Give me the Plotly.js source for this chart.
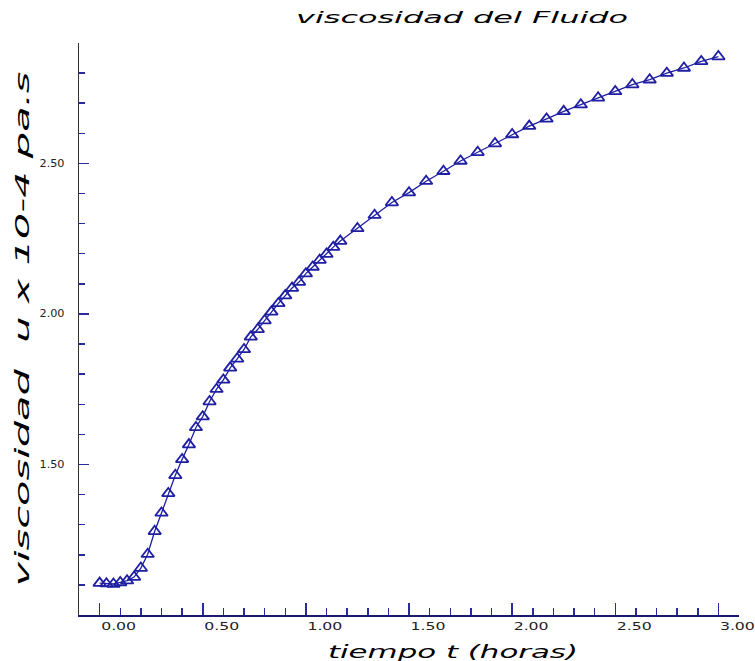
<!DOCTYPE html>
<html>
<head>
<meta charset="utf-8">
<script src="https://cdn.plot.ly/plotly-3.0.1.min.js"></script>
<style>body{margin:0;background:#fff;}</style>
</head>
<body>
<div id="chart" style="width:755px;height:661px;"></div>
<script>
// tiempo t (horas)
const tiempo = [0, 0.033, 0.067, 0.1, 0.133, 0.167, 0.2, 0.233, 0.267, 0.3,
  0.333, 0.367, 0.4, 0.433, 0.467, 0.5, 0.533, 0.567, 0.6, 0.633,
  0.667, 0.7, 0.733, 0.767, 0.8, 0.833, 0.867, 0.9, 0.933, 0.967,
  1.0, 1.033, 1.067, 1.1, 1.133, 1.167,
  1.25, 1.333, 1.417, 1.5, 1.583, 1.667, 1.75, 1.833, 1.917, 2.0,
  2.083, 2.167, 2.25, 2.333, 2.417, 2.5, 2.583, 2.667, 2.75, 2.833, 2.917, 3.0];
// viscosidad u x 10-4 pa.s
const viscosidad = [1.106, 1.104, 1.103, 1.108, 1.114, 1.126, 1.156, 1.202, 1.278, 1.339,
  1.404, 1.464, 1.517, 1.566, 1.623, 1.659, 1.709, 1.750, 1.781, 1.821,
  1.851, 1.882, 1.924, 1.949, 1.978, 2.007, 2.035, 2.061, 2.086, 2.106,
  2.134, 2.156, 2.179, 2.199, 2.222, 2.242,
  2.284, 2.328, 2.370, 2.403, 2.441, 2.474, 2.508, 2.537, 2.566, 2.596,
  2.624, 2.648, 2.673, 2.695, 2.718, 2.739, 2.762, 2.778, 2.800, 2.817, 2.839, 2.855];

const xTickVals = [0, 0.5, 1.0, 1.5, 2.0, 2.5, 3.0];
const xTickText = ["0.00", "0.50", "1.00", "1.50", "2.00", "2.50", "3.00"];
const yTickVals = [1.5, 2.0, 2.5];
const yTickText = ["1.50", "2.00", "2.50"];

const chartTitle = "viscosidad del Fluido";
const xTitle = "tiempo t (horas)";
const yTitle = "viscosidad  u x 10-4 pa.s";

const blue = "#1f1fa3";

const trace = {
  x: tiempo,
  y: viscosidad,
  type: "scatter",
  mode: "lines+markers",
  line: {color: blue, width: 1.3},
  marker: {symbol: "triangle-up-open", size: 11, color: blue, line: {color: blue, width: 1.8}},
  showlegend: false
};

const layout = {
  width: 755,
  height: 661,
  margin: {l: 79, r: 16, t: 43, b: 46},
  paper_bgcolor: "#ffffff",
  plot_bgcolor: "#ffffff",
  font: {family: "DejaVu Sans, sans-serif", color: "#111"},
  title: {
    text: chartTitle,
    x: 0.612, xanchor: "center", xref: "container",
    y: 1 - 18 / 661, yanchor: "middle", yref: "container",
    font: {size: 15, style: "italic", color: "#000"}
  },
  xaxis: {
    range: [-0.1, 3.1],
    showgrid: false, zeroline: false,
    showline: true, linecolor: "#1a1a70", linewidth: 1.5,
    tickmode: "array", tickvals: xTickVals, ticktext: xTickText,
    ticks: "inside", ticklen: 12, tickwidth: 1.5, tickcolor: "#2a2aa0",
    ticklabelposition: "outside right",
    tickfont: {size: 11, color: "#222"},
    minor: {dtick: 0.1, tick0: 0, ticks: "inside", ticklen: 7, tickwidth: 1.5, tickcolor: "#2a2aa0", showgrid: false},
    fixedrange: true
  },
  yaxis: {
    range: [1.0, 2.9],
    showgrid: false, zeroline: false,
    showline: true, linecolor: "#333333", linewidth: 1.5,
    tickmode: "array", tickvals: yTickVals, ticktext: yTickText,
    ticks: "inside", ticklen: 10, tickwidth: 1.5, tickcolor: "#2a2aa0",
    ticklabelstandoff: 11,
    tickfont: {size: 10, color: "#222"},
    minor: {dtick: 0.1, tick0: 1.5, ticks: "inside", ticklen: 6, tickwidth: 1.5, tickcolor: "#2a2aa0", showgrid: false},
    title: {text: yTitle, standoff: 7, font: {size: 20, style: "italic", color: "#000"}},
    fixedrange: true
  },
  annotations: [{
    text: xTitle,
    xref: "paper", yref: "paper",
    x: 0.567, y: -0.063, xanchor: "center", yanchor: "middle",
    showarrow: false,
    font: {size: 18, style: "italic", color: "#000"}
  }]
};

function stretch() {
  const set = (sel, len) => document.querySelectorAll(sel).forEach(t => {
    t.setAttribute("textLength", len);
    t.setAttribute("lengthAdjust", "spacingAndGlyphs");
  });
  set(".gtitle", 332);
  set(".ytitle", 515);
  set(".xtick > text", 35);
  set(".ytick > text", 25);
  set(".annotation-text", 250);
}

Plotly.newPlot("chart", [trace], layout, {displayModeBar: false, staticPlot: true}).then(gd => {
  stretch();
  gd.on("plotly_afterplot", stretch);
});
</script>
</body>
</html>
